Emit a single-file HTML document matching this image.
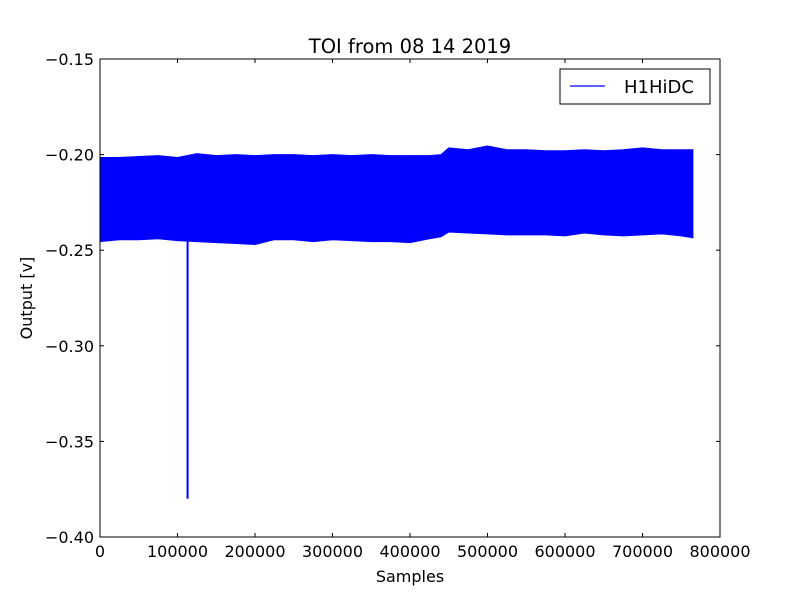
<!DOCTYPE html>
<html><head><meta charset="utf-8"><style>
body{margin:0;background:#fff;}
svg{display:block;font-family:"DejaVu Sans","Liberation Sans",sans-serif;}
</style></head><body>
<svg id="chart" width="800" height="597">
<rect width="800" height="597" fill="#fff"/>
<g id="marks"></g>
<rect x="100" y="59" width="620" height="478" fill="none" stroke="#000" stroke-width="1"/>
<g id="axes"></g>
<text x="410" y="53" font-size="19.5" text-anchor="middle">TOI from 08 14 2019</text>
<text x="410" y="582" font-size="16" text-anchor="middle">Samples</text>
<text x="32" y="298" font-size="16" text-anchor="middle" transform="rotate(-90 32 298)">Output [v]</text>
<g>
<rect x="560" y="69" width="150" height="35" fill="#fff" stroke="#000" stroke-width="1"/>
<line x1="570" y1="86" x2="605" y2="86" stroke="#0000ff" stroke-width="1.2"/>
<text x="624" y="93" font-size="18">H1HiDC</text>
</g>
</svg>
<script>
const samples=[0,25000,50000,75000,100000,125000,150000,175000,200000,225000,250000,275000,300000,325000,350000,375000,400000,425000,440000,450000,475000,500000,525000,550000,575000,600000,625000,650000,675000,700000,725000,750000,765000];
const upper=[-0.2015,-0.2015,-0.201,-0.2005,-0.2015,-0.1995,-0.2005,-0.2,-0.2005,-0.2,-0.2,-0.2005,-0.2,-0.2005,-0.2,-0.2005,-0.2005,-0.2005,-0.2,-0.1965,-0.1975,-0.1955,-0.1975,-0.1975,-0.198,-0.198,-0.1975,-0.198,-0.1975,-0.1965,-0.1975,-0.1975,-0.1975];
const lower=[-0.2455,-0.2445,-0.2445,-0.244,-0.245,-0.2455,-0.246,-0.2465,-0.247,-0.2445,-0.2445,-0.2455,-0.2445,-0.245,-0.2455,-0.2455,-0.246,-0.244,-0.243,-0.2405,-0.241,-0.2415,-0.242,-0.242,-0.242,-0.2425,-0.241,-0.242,-0.2425,-0.242,-0.2415,-0.2425,-0.2435];
const spikeSample=[113000];
const spikeValue=[-0.38];
const xTicks=[0,100000,200000,300000,400000,500000,600000,700000,800000];
const yTicks=[-0.15,-0.20,-0.25,-0.30,-0.35,-0.40];
const xs=v=>100+v/800000*620;
const ys=v=>59+(-0.15-v)/0.25*478;
const NS='http://www.w3.org/2000/svg';
const marks=document.getElementById('marks'),axes=document.getElementById('axes');
let d='M'+samples.map((s,i)=>xs(s).toFixed(1)+','+ys(upper[i]).toFixed(1)).join('L');
for(let i=samples.length-1;i>=0;i--)d+='L'+xs(samples[i]).toFixed(1)+','+ys(lower[i]).toFixed(1);
d+='Z';
const p=document.createElementNS(NS,'path');
p.setAttribute('d',d);p.setAttribute('fill','#0000ff');p.setAttribute('stroke','#0000ff');


marks.appendChild(p);
spikeSample.forEach((s,i)=>{
 const l=document.createElementNS(NS,'line');
 l.setAttribute('x1',xs(s));l.setAttribute('x2',xs(s));
 l.setAttribute('y1',ys(-0.225));l.setAttribute('y2',ys(spikeValue[i]));
 l.setAttribute('stroke','#0000ff');l.setAttribute('stroke-width','2');
 
 
 marks.appendChild(l);
});
xTicks.forEach(t=>{
 const x=xs(t);
 [[537,533],[59,63]].forEach(([a,b])=>{const l=document.createElementNS(NS,'line');l.setAttribute('x1',x);l.setAttribute('x2',x);l.setAttribute('y1',a);l.setAttribute('y2',b);l.setAttribute('stroke','#000');
 
 
 axes.appendChild(l);});
 const tx=document.createElementNS(NS,'text');tx.setAttribute('x',x);tx.setAttribute('y',557);tx.setAttribute('font-size','16');tx.setAttribute('text-anchor','middle');tx.textContent=t;
 
 
 axes.appendChild(tx);
});
yTicks.forEach(t=>{
 const y=ys(t);
 [[100,104],[720,716]].forEach(([a,b])=>{const l=document.createElementNS(NS,'line');l.setAttribute('x1',a);l.setAttribute('x2',b);l.setAttribute('y1',y);l.setAttribute('y2',y);l.setAttribute('stroke','#000');
 
 
 axes.appendChild(l);});
 const tx=document.createElementNS(NS,'text');tx.setAttribute('x',94);tx.setAttribute('y',y+6);tx.setAttribute('font-size','16');tx.setAttribute('text-anchor','end');tx.textContent='\u2212'+Math.abs(t).toFixed(2);
 
 
 axes.appendChild(tx);
});
</script>
</body></html>
